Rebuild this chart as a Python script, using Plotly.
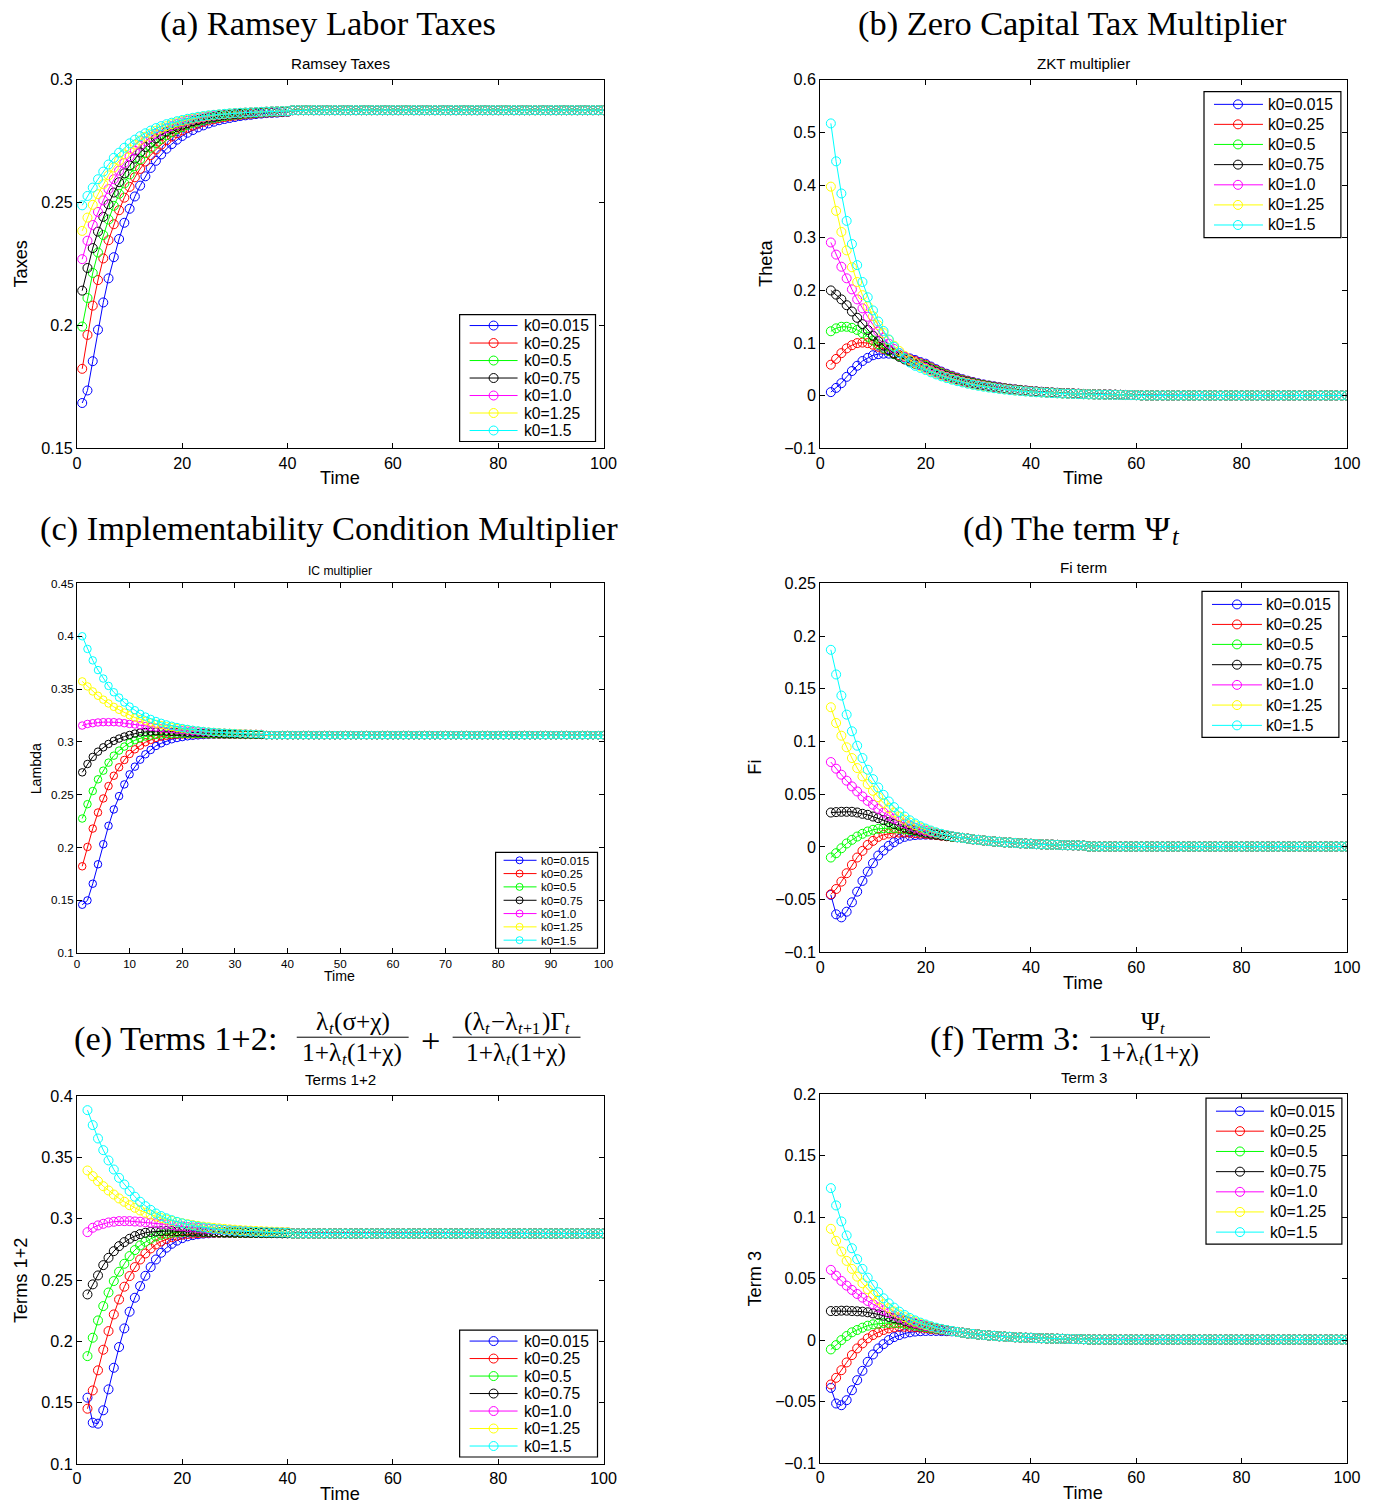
import plotly.graph_objects as go

W, H = 1380, 1504

series_labels = ["k0=0.015", "k0=0.25", "k0=0.5", "k0=0.75", "k0=1.0", "k0=1.25", "k0=1.5"]
series_colors = ["#0000ff", "#ff0000", "#00ff00", "#000000", "#ff00ff", "#ffff00", "#00ffff"]

time_from_1 = list(range(1, 101))
time_from_2 = list(range(2, 101))

# ---------------- (a) Ramsey taxes, t = 1..40 then steady state ----------------
tax_steady = [0.2876] * 60
tax_k0_015 = [0.1685, 0.1736, 0.1855, 0.1983, 0.2094, 0.2192, 0.2278, 0.2352, 0.2418, 0.2475,
              0.2525, 0.2569, 0.2607, 0.2641, 0.2670, 0.2696, 0.2719, 0.2738, 0.2756, 0.2771,
              0.2784, 0.2795, 0.2806, 0.2814, 0.2822, 0.2829, 0.2835, 0.2840, 0.2844, 0.2848,
              0.2852, 0.2855, 0.2857, 0.2860, 0.2862, 0.2864, 0.2865, 0.2866, 0.2868, 0.2869]
tax_k0_025 = [0.1824, 0.1962, 0.2081, 0.2185, 0.2273, 0.2347, 0.2412, 0.2469, 0.2520, 0.2564,
              0.2603, 0.2637, 0.2667, 0.2693, 0.2716, 0.2736, 0.2754, 0.2769, 0.2782, 0.2794,
              0.2804, 0.2813, 0.2821, 0.2828, 0.2834, 0.2839, 0.2844, 0.2848, 0.2851, 0.2854,
              0.2857, 0.2859, 0.2861, 0.2863, 0.2865, 0.2866, 0.2867, 0.2868, 0.2869, 0.2870]
tax_k0_05 = [0.1996, 0.2112, 0.2214, 0.2297, 0.2368, 0.2431, 0.2487, 0.2536, 0.2578, 0.2615,
             0.2648, 0.2676, 0.2701, 0.2723, 0.2742, 0.2759, 0.2774, 0.2786, 0.2798, 0.2807,
             0.2816, 0.2824, 0.2830, 0.2836, 0.2841, 0.2845, 0.2849, 0.2852, 0.2855, 0.2858,
             0.2860, 0.2862, 0.2864, 0.2865, 0.2867, 0.2868, 0.2869, 0.2870, 0.2871, 0.2871]
tax_k0_075 = [0.2142, 0.2234, 0.2315, 0.2382, 0.2442, 0.2493, 0.2541, 0.2583, 0.2619, 0.2651,
              0.2679, 0.2704, 0.2726, 0.2744, 0.2761, 0.2775, 0.2788, 0.2799, 0.2808, 0.2817,
              0.2824, 0.2831, 0.2836, 0.2841, 0.2846, 0.2849, 0.2853, 0.2856, 0.2858, 0.2860,
              0.2862, 0.2864, 0.2865, 0.2867, 0.2868, 0.2869, 0.2870, 0.2871, 0.2871, 0.2872]
tax_k0_10 = [0.2270, 0.2345, 0.2409, 0.2462, 0.2509, 0.2555, 0.2595, 0.2630, 0.2661, 0.2688,
             0.2711, 0.2732, 0.2750, 0.2766, 0.2779, 0.2791, 0.2802, 0.2811, 0.2819, 0.2826,
             0.2833, 0.2838, 0.2843, 0.2847, 0.2851, 0.2854, 0.2857, 0.2859, 0.2861, 0.2863,
             0.2865, 0.2866, 0.2867, 0.2868, 0.2869, 0.2870, 0.2871, 0.2871, 0.2872, 0.2872]
tax_k0_125 = [0.2385, 0.2439, 0.2491, 0.2534, 0.2575, 0.2611, 0.2643, 0.2671, 0.2696, 0.2717,
              0.2736, 0.2753, 0.2768, 0.2781, 0.2792, 0.2802, 0.2811, 0.2819, 0.2826, 0.2832,
              0.2837, 0.2842, 0.2846, 0.2850, 0.2853, 0.2856, 0.2858, 0.2860, 0.2862, 0.2864,
              0.2865, 0.2866, 0.2867, 0.2868, 0.2869, 0.2870, 0.2871, 0.2871, 0.2872, 0.2872]
tax_k0_15 = [0.2489, 0.2527, 0.2561, 0.2595, 0.2626, 0.2655, 0.2682, 0.2703, 0.2723, 0.2741,
             0.2756, 0.2770, 0.2782, 0.2793, 0.2803, 0.2811, 0.2819, 0.2825, 0.2831, 0.2836,
             0.2841, 0.2845, 0.2849, 0.2852, 0.2855, 0.2857, 0.2859, 0.2861, 0.2863, 0.2864,
             0.2865, 0.2866, 0.2867, 0.2868, 0.2869, 0.2870, 0.2871, 0.2871, 0.2872, 0.2872]

# ---------------- (b) ZKT multiplier: t = 2..20, 21..60, then near zero ----------------
theta_steady = [0.0006] * 40
theta_k0_015 = [0.007, 0.015, 0.024, 0.036, 0.047, 0.057, 0.066, 0.072, 0.077, 0.079,
                0.080, 0.080, 0.079, 0.077, 0.074, 0.071, 0.068, 0.064, 0.061,
                0.0555, 0.0505, 0.0460, 0.0418, 0.0381, 0.0346, 0.0315, 0.0287, 0.0261, 0.0237,
                0.0216, 0.0196, 0.0179, 0.0163, 0.0148, 0.0135, 0.0123, 0.0112, 0.0102, 0.0093,
                0.0084, 0.0077, 0.0070, 0.0063, 0.0058, 0.0052, 0.0048, 0.0044, 0.0040, 0.0036,
                0.0033, 0.0030, 0.0027, 0.0025, 0.0023, 0.0021, 0.0019, 0.0017, 0.0015, 0.0014]
theta_k0_025 = [0.059, 0.070, 0.081, 0.090, 0.096, 0.100, 0.101, 0.100, 0.097, 0.093,
                0.089, 0.085, 0.081, 0.077, 0.073, 0.069, 0.066, 0.062, 0.059,
                0.0537, 0.0489, 0.0445, 0.0404, 0.0368, 0.0335, 0.0305, 0.0277, 0.0252, 0.0229,
                0.0209, 0.0190, 0.0173, 0.0158, 0.0143, 0.0131, 0.0119, 0.0108, 0.0099, 0.0090,
                0.0081, 0.0074, 0.0068, 0.0061, 0.0056, 0.0050, 0.0046, 0.0043, 0.0039, 0.0035,
                0.0032, 0.0029, 0.0026, 0.0024, 0.0022, 0.0020, 0.0018, 0.0016, 0.0015, 0.0014]
theta_k0_05 = [0.1225, 0.128, 0.131, 0.131, 0.129, 0.125, 0.119, 0.112, 0.105, 0.098,
               0.091, 0.085, 0.079, 0.075, 0.071, 0.067, 0.063, 0.060, 0.057,
               0.0518, 0.0472, 0.0430, 0.0390, 0.0356, 0.0323, 0.0294, 0.0268, 0.0244, 0.0221,
               0.0202, 0.0183, 0.0167, 0.0152, 0.0138, 0.0126, 0.0115, 0.0105, 0.0095, 0.0087,
               0.0078, 0.0072, 0.0065, 0.0059, 0.0054, 0.0049, 0.0045, 0.0041, 0.0037, 0.0034,
               0.0031, 0.0028, 0.0025, 0.0023, 0.0021, 0.0020, 0.0018, 0.0016, 0.0014, 0.0013]
theta_k0_075 = [0.200, 0.192, 0.183, 0.172, 0.160, 0.148, 0.136, 0.125, 0.114, 0.104,
                0.095, 0.087, 0.080, 0.074, 0.069, 0.065, 0.061, 0.058, 0.055,
                0.0501, 0.0456, 0.0415, 0.0377, 0.0344, 0.0312, 0.0284, 0.0259, 0.0235, 0.0214,
                0.0195, 0.0177, 0.0161, 0.0147, 0.0133, 0.0122, 0.0111, 0.0101, 0.0092, 0.0084,
                0.0076, 0.0069, 0.0063, 0.0057, 0.0052, 0.0047, 0.0043, 0.0040, 0.0036, 0.0032,
                0.0030, 0.0027, 0.0024, 0.0023, 0.0021, 0.0019, 0.0017, 0.0015, 0.0014, 0.0013]
theta_k0_10 = [0.291, 0.268, 0.245, 0.223, 0.202, 0.183, 0.166, 0.150, 0.135, 0.122,
               0.110, 0.099, 0.089, 0.081, 0.074, 0.068, 0.063, 0.058, 0.053,
               0.0482, 0.0439, 0.0400, 0.0363, 0.0331, 0.0301, 0.0274, 0.0249, 0.0227, 0.0206,
               0.0188, 0.0170, 0.0156, 0.0142, 0.0129, 0.0117, 0.0107, 0.0097, 0.0089, 0.0081,
               0.0073, 0.0067, 0.0061, 0.0055, 0.0050, 0.0045, 0.0042, 0.0038, 0.0035, 0.0031,
               0.0029, 0.0026, 0.0023, 0.0022, 0.0020, 0.0018, 0.0017, 0.0015, 0.0013, 0.0012]
theta_k0_125 = [0.397, 0.351, 0.311, 0.276, 0.244, 0.216, 0.191, 0.170, 0.151, 0.134,
                0.119, 0.106, 0.095, 0.085, 0.076, 0.068, 0.062, 0.056, 0.051,
                0.0464, 0.0422, 0.0385, 0.0349, 0.0319, 0.0289, 0.0263, 0.0240, 0.0218, 0.0198,
                0.0181, 0.0164, 0.0150, 0.0136, 0.0124, 0.0113, 0.0103, 0.0094, 0.0085, 0.0078,
                0.0070, 0.0064, 0.0059, 0.0053, 0.0048, 0.0043, 0.0040, 0.0037, 0.0033, 0.0030,
                0.0028, 0.0025, 0.0023, 0.0021, 0.0019, 0.0018, 0.0016, 0.0014, 0.0013, 0.0012]
theta_k0_15 = [0.517, 0.445, 0.384, 0.332, 0.288, 0.248, 0.216, 0.187, 0.162, 0.141,
               0.123, 0.107, 0.093, 0.081, 0.071, 0.063, 0.057, 0.053, 0.049,
               0.0446, 0.0406, 0.0369, 0.0336, 0.0306, 0.0278, 0.0253, 0.0230, 0.0210, 0.0190,
               0.0173, 0.0157, 0.0144, 0.0131, 0.0119, 0.0108, 0.0099, 0.0090, 0.0082, 0.0075,
               0.0067, 0.0062, 0.0056, 0.0051, 0.0047, 0.0042, 0.0039, 0.0035, 0.0032, 0.0029,
               0.0027, 0.0024, 0.0022, 0.0020, 0.0018, 0.0017, 0.0015, 0.0014, 0.0012, 0.0011]

# ---------------- (c) IC multiplier, t = 1..35 then steady state ----------------
lambda_steady = [0.3064] * 65
lambda_k0_015 = [0.1459, 0.1500, 0.1658, 0.1842, 0.2032, 0.2206, 0.2361, 0.2487, 0.2598, 0.2693,
                 0.2766, 0.2832, 0.2883, 0.2924, 0.2962, 0.2987, 0.3009, 0.3025, 0.3037, 0.3046,
                 0.3053, 0.3058, 0.3062, 0.3065, 0.3067, 0.3068, 0.3068, 0.3068, 0.3068, 0.3068,
                 0.3067, 0.3067, 0.3067, 0.3066, 0.3066]
lambda_k0_025 = [0.1823, 0.2006, 0.2180, 0.2332, 0.2465, 0.2582, 0.2680, 0.2760, 0.2829, 0.2886,
                 0.2930, 0.2965, 0.2997, 0.3019, 0.3038, 0.3050, 0.3058, 0.3064, 0.3068, 0.3070,
                 0.3071, 0.3071, 0.3071, 0.3071, 0.3070, 0.3070, 0.3069, 0.3069, 0.3068, 0.3068,
                 0.3067, 0.3067, 0.3067, 0.3066, 0.3066]
lambda_k0_05 = [0.2275, 0.2411, 0.2535, 0.2646, 0.2728, 0.2804, 0.2870, 0.2918, 0.2956, 0.2991,
                0.3016, 0.3035, 0.3051, 0.3060, 0.3066, 0.3070, 0.3073, 0.3075, 0.3076, 0.3076,
                0.3076, 0.3075, 0.3075, 0.3074, 0.3073, 0.3072, 0.3072, 0.3071, 0.3070, 0.3070,
                0.3069, 0.3068, 0.3068, 0.3067, 0.3067]
lambda_k0_075 = [0.2712, 0.2791, 0.2858, 0.2908, 0.2949, 0.2981, 0.3010, 0.3032, 0.3051, 0.3066,
                 0.3079, 0.3089, 0.3095, 0.3098, 0.3099, 0.3098, 0.3097, 0.3095, 0.3093, 0.3090,
                 0.3088, 0.3086, 0.3084, 0.3082, 0.3080, 0.3079, 0.3077, 0.3076, 0.3075, 0.3074,
                 0.3073, 0.3072, 0.3071, 0.3070, 0.3069]
lambda_k0_10 = [0.3155, 0.3170, 0.3177, 0.3184, 0.3187, 0.3187, 0.3187, 0.3184, 0.3177, 0.3170,
                0.3165, 0.3158, 0.3149, 0.3142, 0.3136, 0.3130, 0.3124, 0.3119, 0.3114, 0.3110,
                0.3106, 0.3102, 0.3099, 0.3096, 0.3093, 0.3091, 0.3089, 0.3087, 0.3085, 0.3083,
                0.3081, 0.3080, 0.3078, 0.3077, 0.3076]
lambda_k0_125 = [0.3573, 0.3525, 0.3478, 0.3437, 0.3400, 0.3364, 0.3332, 0.3304, 0.3278, 0.3253,
                 0.3231, 0.3215, 0.3199, 0.3184, 0.3171, 0.3159, 0.3149, 0.3140, 0.3132, 0.3124,
                 0.3118, 0.3112, 0.3107, 0.3102, 0.3098, 0.3094, 0.3091, 0.3088, 0.3086, 0.3084,
                 0.3082, 0.3080, 0.3078, 0.3077, 0.3075]
lambda_k0_15 = [0.4000, 0.3880, 0.3772, 0.3680, 0.3600, 0.3530, 0.3470, 0.3420, 0.3373, 0.3335,
                0.3300, 0.3266, 0.3240, 0.3218, 0.3198, 0.3181, 0.3166, 0.3153, 0.3141, 0.3131,
                0.3123, 0.3115, 0.3109, 0.3103, 0.3098, 0.3094, 0.3090, 0.3087, 0.3084, 0.3082,
                0.3079, 0.3078, 0.3076, 0.3075, 0.3073]

# ---------------- (d) Fi term: t = 2..25, shared tail t = 26..50, then near zero ----------------
fi_tail = [0.0092, 0.0085, 0.0078, 0.0072, 0.0066, 0.0061, 0.0056, 0.0051, 0.0047, 0.0043,
           0.0040, 0.0037, 0.0034, 0.0031, 0.0029, 0.0026, 0.0024, 0.0022, 0.0021, 0.0019,
           0.0017, 0.0016, 0.0015, 0.0014, 0.0012]
fi_steady = [0.0003] * 50
fi_k0_015 = [-0.0456, -0.0640, -0.0669, -0.0615, -0.0526, -0.0425, -0.0323, -0.0235, -0.0155, -0.0082,
             -0.0035, 0.0010, 0.0044, 0.0076, 0.0095, 0.0106, 0.0112, 0.0115, 0.0116, 0.0115,
             0.0113, 0.0110, 0.0106, 0.0102]
fi_k0_025 = [-0.0450, -0.0400, -0.0330, -0.0250, -0.0171, -0.0101, -0.0038, 0.0019, 0.0057, 0.0095,
             0.0114, 0.0127, 0.0133, 0.0135, 0.0135, 0.0133, 0.0130, 0.0126, 0.0122, 0.0117,
             0.0112, 0.0106, 0.0101, 0.0096]
fi_k0_05 = [-0.0101, -0.0060, -0.0013, 0.0032, 0.0067, 0.0098, 0.0124, 0.0146, 0.0162, 0.0171,
            0.0177, 0.0178, 0.0176, 0.0172, 0.0166, 0.0159, 0.0151, 0.0143, 0.0135, 0.0127,
            0.0119, 0.0111, 0.0104, 0.0097]
fi_k0_075 = [0.0326, 0.0330, 0.0333, 0.0333, 0.0333, 0.0326, 0.0314, 0.0304, 0.0288, 0.0273,
             0.0254, 0.0235, 0.0217, 0.0200, 0.0184, 0.0170, 0.0157, 0.0145, 0.0134, 0.0125,
             0.0117, 0.0109, 0.0102, 0.0096]
fi_k0_10 = [0.0805, 0.0742, 0.0685, 0.0628, 0.0574, 0.0526, 0.0479, 0.0437, 0.0400, 0.0361,
            0.0326, 0.0295, 0.0268, 0.0243, 0.0220, 0.0200, 0.0182, 0.0166, 0.0152, 0.0140,
            0.0129, 0.0119, 0.0110, 0.0102]
fi_k0_125 = [0.1325, 0.1176, 0.1055, 0.0945, 0.0843, 0.0748, 0.0669, 0.0596, 0.0532, 0.0472,
             0.0415, 0.0368, 0.0326, 0.0290, 0.0258, 0.0230, 0.0205, 0.0183, 0.0164, 0.0148,
             0.0134, 0.0121, 0.0110, 0.0100]
fi_k0_15 = [0.1870, 0.1636, 0.1436, 0.1255, 0.1097, 0.0960, 0.0843, 0.0732, 0.0643, 0.0564,
            0.0494, 0.0431, 0.0377, 0.0330, 0.0288, 0.0252, 0.0222, 0.0196, 0.0174, 0.0155,
            0.0138, 0.0124, 0.0111, 0.0100]

# ---------------- (e) Terms 1+2: t = 2..40 then steady state ----------------
terms12_steady = [0.2880] * 60
terms12_k0_015 = [0.1541, 0.1337, 0.1329, 0.1438, 0.1609, 0.1785, 0.1954, 0.2106, 0.2242, 0.2356,
                  0.2451, 0.2535, 0.2606, 0.2668, 0.2723, 0.2764, 0.2796, 0.2822, 0.2842, 0.2857,
                  0.2867, 0.2874, 0.2879, 0.2882, 0.2884, 0.2885, 0.2885, 0.2885, 0.2885, 0.2885,
                  0.2884, 0.2884, 0.2884, 0.2883, 0.2883, 0.2883, 0.2882, 0.2882, 0.2882]
terms12_k0_025 = [0.1451, 0.1600, 0.1764, 0.1932, 0.2084, 0.2220, 0.2342, 0.2446, 0.2533, 0.2606,
                  0.2668, 0.2717, 0.2758, 0.2791, 0.2815, 0.2835, 0.2850, 0.2862, 0.2870, 0.2876,
                  0.2880, 0.2883, 0.2885, 0.2886, 0.2886, 0.2886, 0.2886, 0.2886, 0.2885, 0.2885,
                  0.2885, 0.2884, 0.2884, 0.2884, 0.2883, 0.2883, 0.2883, 0.2882, 0.2882]
terms12_k0_05 = [0.1880, 0.2030, 0.2171, 0.2288, 0.2399, 0.2492, 0.2568, 0.2633, 0.2696, 0.2745,
                 0.2783, 0.2813, 0.2837, 0.2856, 0.2870, 0.2880, 0.2887, 0.2891, 0.2893, 0.2894,
                 0.2894, 0.2893, 0.2892, 0.2891, 0.2890, 0.2889, 0.2888, 0.2888, 0.2887, 0.2886,
                 0.2886, 0.2885, 0.2885, 0.2884, 0.2884, 0.2883, 0.2883, 0.2882, 0.2882]
terms12_k0_075 = [0.2383, 0.2465, 0.2538, 0.2622, 0.2682, 0.2736, 0.2777, 0.2810, 0.2837, 0.2859,
                  0.2875, 0.2886, 0.2893, 0.2897, 0.2899, 0.2900, 0.2900, 0.2899, 0.2898, 0.2897,
                  0.2896, 0.2895, 0.2894, 0.2893, 0.2892, 0.2891, 0.2890, 0.2889, 0.2888, 0.2887,
                  0.2887, 0.2886, 0.2886, 0.2885, 0.2885, 0.2884, 0.2884, 0.2883, 0.2883]
terms12_k0_10 = [0.2891, 0.2927, 0.2946, 0.2959, 0.2970, 0.2976, 0.2981, 0.2981, 0.2981, 0.2978,
                 0.2976, 0.2972, 0.2968, 0.2963, 0.2958, 0.2953, 0.2948, 0.2943, 0.2938, 0.2933,
                 0.2929, 0.2925, 0.2921, 0.2917, 0.2914, 0.2911, 0.2908, 0.2906, 0.2903, 0.2901,
                 0.2899, 0.2897, 0.2896, 0.2894, 0.2893, 0.2892, 0.2891, 0.2890, 0.2889]
terms12_k0_125 = [0.3394, 0.3348, 0.3307, 0.3266, 0.3231, 0.3198, 0.3166, 0.3139, 0.3111, 0.3090,
                  0.3068, 0.3050, 0.3034, 0.3019, 0.3006, 0.2994, 0.2983, 0.2973, 0.2964, 0.2956,
                  0.2949, 0.2942, 0.2936, 0.2931, 0.2926, 0.2922, 0.2918, 0.2914, 0.2911, 0.2908,
                  0.2905, 0.2903, 0.2901, 0.2899, 0.2897, 0.2895, 0.2894, 0.2892, 0.2891]
terms12_k0_15 = [0.3886, 0.3764, 0.3655, 0.3560, 0.3476, 0.3402, 0.3334, 0.3280, 0.3226, 0.3180,
                 0.3139, 0.3103, 0.3073, 0.3043, 0.3022, 0.3004, 0.2989, 0.2975, 0.2963, 0.2953,
                 0.2944, 0.2936, 0.2929, 0.2923, 0.2917, 0.2913, 0.2909, 0.2905, 0.2902, 0.2899,
                 0.2897, 0.2895, 0.2893, 0.2891, 0.2890, 0.2889, 0.2888, 0.2887, 0.2886]

# ---------------- (f) Term 3: t = 2..25, shared tail t = 26..50, then near zero ----------------
term3_tail = [0.0066, 0.0060, 0.0054, 0.0050, 0.0045, 0.0041, 0.0037, 0.0034, 0.0031, 0.0028,
              0.0026, 0.0023, 0.0021, 0.0019, 0.0018, 0.0016, 0.0015, 0.0013, 0.0012, 0.0011,
              0.0010, 0.0009, 0.0008, 0.0008, 0.0007]
term3_steady = [0.0004] * 50
term3_k0_015 = [-0.0389, -0.0516, -0.0530, -0.0489, -0.0408, -0.0326, -0.0250, -0.0177, -0.0117, -0.0068,
                -0.0033, 0.0000, 0.0024, 0.0041, 0.0054, 0.0063, 0.0069, 0.0072, 0.0074, 0.0074,
                0.0074, 0.0073, 0.0072, 0.0071]
term3_k0_025 = [-0.0361, -0.0307, -0.0245, -0.0182, -0.0122, -0.0068, -0.0027, 0.0014, 0.0041, 0.0063,
                0.0082, 0.0095, 0.0103, 0.0107, 0.0108, 0.0107, 0.0104, 0.0100, 0.0096, 0.0091,
                0.0087, 0.0082, 0.0078, 0.0073]
term3_k0_05 = [-0.0076, -0.0041, 0.0000, 0.0033, 0.0063, 0.0082, 0.0101, 0.0117, 0.0128, 0.0133,
               0.0139, 0.0140, 0.0139, 0.0136, 0.0131, 0.0125, 0.0118, 0.0111, 0.0104, 0.0097,
               0.0091, 0.0085, 0.0079, 0.0073]
term3_k0_075 = [0.0236, 0.0236, 0.0239, 0.0239, 0.0236, 0.0234, 0.0231, 0.0226, 0.0217, 0.0209,
                0.0198, 0.0188, 0.0177, 0.0166, 0.0155, 0.0144, 0.0133, 0.0123, 0.0113, 0.0104,
                0.0096, 0.0088, 0.0081, 0.0074]
term3_k0_10 = [0.0571, 0.0524, 0.0481, 0.0443, 0.0408, 0.0375, 0.0345, 0.0318, 0.0291, 0.0266,
               0.0242, 0.0220, 0.0200, 0.0182, 0.0165, 0.0150, 0.0137, 0.0125, 0.0114, 0.0104,
               0.0095, 0.0087, 0.0080, 0.0074]
term3_k0_125 = [0.0905, 0.0807, 0.0720, 0.0644, 0.0579, 0.0516, 0.0462, 0.0413, 0.0367, 0.0326,
                0.0291, 0.0260, 0.0233, 0.0208, 0.0186, 0.0167, 0.0150, 0.0134, 0.0121, 0.0109,
                0.0098, 0.0089, 0.0081, 0.0074]
term3_k0_15 = [0.1236, 0.1095, 0.0965, 0.0851, 0.0747, 0.0658, 0.0579, 0.0508, 0.0448, 0.0389,
               0.0340, 0.0299, 0.0264, 0.0231, 0.0204, 0.0180, 0.0160, 0.0142, 0.0127, 0.0113,
               0.0101, 0.0091, 0.0082, 0.0074]

# ---------------- tick labels ----------------
x_ticks_20 = [0, 20, 40, 60, 80, 100]
x_ticks_10 = [0, 10, 20, 30, 40, 50, 60, 70, 80, 90, 100]
y_ticks_a = [0.15, 0.2, 0.25, 0.3]
y_text_a = ["0.15", "0.2", "0.25", "0.3"]
y_ticks_b = [-0.1, 0, 0.1, 0.2, 0.3, 0.4, 0.5, 0.6]
y_text_b = ["\u22120.1", "0", "0.1", "0.2", "0.3", "0.4", "0.5", "0.6"]
y_ticks_c = [0.1, 0.15, 0.2, 0.25, 0.3, 0.35, 0.4, 0.45]
y_text_c = ["0.1", "0.15", "0.2", "0.25", "0.3", "0.35", "0.4", "0.45"]
y_ticks_d = [-0.1, -0.05, 0, 0.05, 0.1, 0.15, 0.2, 0.25]
y_text_d = ["\u22120.1", "\u22120.05", "0", "0.05", "0.1", "0.15", "0.2", "0.25"]
y_ticks_e = [0.1, 0.15, 0.2, 0.25, 0.3, 0.35, 0.4]
y_text_e = ["0.1", "0.15", "0.2", "0.25", "0.3", "0.35", "0.4"]
y_ticks_f = [-0.1, -0.05, 0, 0.05, 0.1, 0.15, 0.2]
y_text_f = ["\u22120.1", "\u22120.05", "0", "0.05", "0.1", "0.15", "0.2"]

SANS = "Liberation Sans, Arial, Helvetica, sans-serif"
SERIF = "Liberation Serif, Times New Roman, DejaVu Serif, serif"

# The captured page comes out slightly shrunk and shifted; positions below are in
# target-picture pixels and are mapped back to figure pixels here.
SCALE = 0.9885
OFF_X, OFF_Y = 3.0, 7.3


def px(x):
    return ((x - OFF_X) / SCALE) / W


def py(y):
    return 1 - ((y - OFF_Y) / SCALE) / H


def fs(size):
    return size / SCALE


panels = [
    dict(box=(76, 603, 78, 447), time=time_from_1,
         series=[tax_k0_015 + tax_steady, tax_k0_025 + tax_steady, tax_k0_05 + tax_steady,
                 tax_k0_075 + tax_steady, tax_k0_10 + tax_steady, tax_k0_125 + tax_steady,
                 tax_k0_15 + tax_steady],
         yrange=[0.15, 0.3], yticks=y_ticks_a, ytext=y_text_a, xticks=x_ticks_20,
         tick_font=16, msize=9,
         inner=("Ramsey Taxes", 340, 62, 15), xtitle=("Time", 339, 477, 18),
         ytitle=("Taxes", 20, 262, 18),
         legend=dict(box=(459, 595, 313, 440), ys=[324, 341.5, 359, 376.5, 394, 411.5, 429],
                     lx=(469, 517), mx=493, tx=523, font=15.5, r=4.5)),
    dict(box=(820, 1347, 78, 447), time=time_from_2,
         series=[theta_k0_015 + theta_steady, theta_k0_025 + theta_steady, theta_k0_05 + theta_steady,
                 theta_k0_075 + theta_steady, theta_k0_10 + theta_steady, theta_k0_125 + theta_steady,
                 theta_k0_15 + theta_steady],
         yrange=[-0.1, 0.6], yticks=y_ticks_b, ytext=y_text_b, xticks=x_ticks_20,
         tick_font=16, msize=9,
         inner=("ZKT multiplier", 1083, 62, 15), xtitle=("Time", 1083, 477, 18),
         ytitle=("Theta", 765, 262, 18),
         legend=dict(box=(1204, 1341, 90, 236), ys=[102.7, 122.7, 142.8, 163, 183.2, 203.3, 223.4],
                     lx=(1214, 1263), mx=1238, tx=1268, font=15.5, r=4.5)),
    dict(box=(76, 603, 582, 952), time=time_from_1,
         series=[lambda_k0_015 + lambda_steady, lambda_k0_025 + lambda_steady, lambda_k0_05 + lambda_steady,
                 lambda_k0_075 + lambda_steady, lambda_k0_10 + lambda_steady, lambda_k0_125 + lambda_steady,
                 lambda_k0_15 + lambda_steady],
         yrange=[0.1, 0.45], yticks=y_ticks_c, ytext=y_text_c, xticks=x_ticks_10,
         tick_font=11.5, msize=7.5,
         inner=("IC multiplier", 339, 570, 12), xtitle=("Time", 339, 975, 14),
         ytitle=("Lambda", 35, 767, 14),
         legend=dict(box=(495, 597, 851, 947), ys=[859, 872.3, 885.6, 899, 912.3, 925.6, 938.9],
                     lx=(503, 536), mx=519, tx=540, font=11.5, r=3.5)),
    dict(box=(820, 1347, 582, 951), time=time_from_2,
         series=[fi_k0_015 + fi_tail + fi_steady, fi_k0_025 + fi_tail + fi_steady, fi_k0_05 + fi_tail + fi_steady,
                 fi_k0_075 + fi_tail + fi_steady, fi_k0_10 + fi_tail + fi_steady, fi_k0_125 + fi_tail + fi_steady,
                 fi_k0_15 + fi_tail + fi_steady],
         yrange=[-0.1, 0.25], yticks=y_ticks_d, ytext=y_text_d, xticks=x_ticks_20,
         tick_font=16, msize=9,
         inner=("Fi term", 1083, 566, 15), xtitle=("Time", 1083, 982, 18),
         ytitle=("Fi", 755, 766, 18),
         legend=dict(box=(1202, 1339, 590, 736), ys=[603, 623, 643, 663.3, 683.5, 703.7, 724],
                     lx=(1212, 1262), mx=1237, tx=1266, font=15.5, r=4.5)),
    dict(box=(76, 603, 1095, 1463), time=time_from_2,
         series=[terms12_k0_015 + terms12_steady, terms12_k0_025 + terms12_steady, terms12_k0_05 + terms12_steady,
                 terms12_k0_075 + terms12_steady, terms12_k0_10 + terms12_steady, terms12_k0_125 + terms12_steady,
                 terms12_k0_15 + terms12_steady],
         yrange=[0.1, 0.4], yticks=y_ticks_e, ytext=y_text_e, xticks=x_ticks_20,
         tick_font=16, msize=9,
         inner=("Terms 1+2", 340, 1078, 15), xtitle=("Time", 339, 1493, 18),
         ytitle=("Terms 1+2", 20, 1279, 18),
         legend=dict(box=(459, 597, 1329, 1456), ys=[1340, 1357.5, 1375, 1392.5, 1410, 1427.5, 1445],
                     lx=(469, 517), mx=493, tx=523, font=15.5, r=4.5)),
    dict(box=(820, 1347, 1093, 1462), time=time_from_2,
         series=[term3_k0_015 + term3_tail + term3_steady, term3_k0_025 + term3_tail + term3_steady,
                 term3_k0_05 + term3_tail + term3_steady, term3_k0_075 + term3_tail + term3_steady,
                 term3_k0_10 + term3_tail + term3_steady, term3_k0_125 + term3_tail + term3_steady,
                 term3_k0_15 + term3_tail + term3_steady],
         yrange=[-0.1, 0.2], yticks=y_ticks_f, ytext=y_text_f, xticks=x_ticks_20,
         tick_font=16, msize=9,
         inner=("Term 3", 1084, 1076, 15), xtitle=("Time", 1083, 1492, 18),
         ytitle=("Term 3", 755, 1277, 18),
         legend=dict(box=(1206, 1342, 1097, 1243), ys=[1110, 1130, 1150.3, 1170.5, 1190.7, 1210.8, 1231],
                     lx=(1216, 1264), mx=1240, tx=1270, font=15.5, r=4.5)),
]

fig = go.Figure()
annotations = []
shapes = []


def txt(text, x, y, size, family=SANS, xanchor="center", angle=0, italic=False):
    annotations.append(dict(text=text, x=px(x), y=py(y), xref="paper", yref="paper",
                            xanchor=xanchor, yanchor="middle", showarrow=False, textangle=angle,
                            borderpad=0, borderwidth=0,
                            font=dict(family=family, size=fs(size), color="black",
                                      style="italic" if italic else "normal")))


def hline(x0, x1, y):
    shapes.append(dict(type="line", xref="paper", yref="paper", x0=px(x0), x1=px(x1),
                       y0=py(y), y1=py(y), line=dict(color="black", width=1)))


for i, p in enumerate(panels):
    n = i + 1
    xa = "x" if n == 1 else f"x{n}"
    ya = "y" if n == 1 else f"y{n}"
    for j, ys in enumerate(p["series"]):
        fig.add_trace(go.Scatter(
            x=p["time"], y=ys, xaxis=xa, yaxis=ya, mode="lines+markers",
            name=series_labels[j], showlegend=False,
            line=dict(color=series_colors[j], width=1),
            marker=dict(symbol="circle-open", size=p["msize"], color=series_colors[j],
                        line=dict(width=1, color=series_colors[j])),
        ))
    x0, x1, y0, y1 = p["box"]
    axis_common = dict(showline=True, linecolor="black", linewidth=1, mirror="ticks",
                       ticks="inside", ticklen=5, tickwidth=1, tickcolor="black",
                       showgrid=False, zeroline=False,
                       tickfont=dict(family=SANS, size=fs(p["tick_font"]), color="black"))
    fig.update_layout(**{
        ("xaxis" if n == 1 else f"xaxis{n}"): dict(
            domain=[px(x0), px(x1)], anchor=ya, range=[0, 100],
            tickvals=p["xticks"], ticktext=[str(v) for v in p["xticks"]], **axis_common),
        ("yaxis" if n == 1 else f"yaxis{n}"): dict(
            domain=[py(y1), py(y0)], anchor=xa, range=p["yrange"],
            tickvals=p["yticks"], ticktext=p["ytext"], **axis_common),
    })
    t, tx_, ty_, ts = p["inner"]
    txt(t, tx_, ty_, ts)
    t, tx_, ty_, ts = p["xtitle"]
    txt(t, tx_, ty_, ts)
    t, tx_, ty_, ts = p["ytitle"]
    txt(t, tx_, ty_, ts, angle=-90)

    lg = p["legend"]
    bx0, bx1, by0, by1 = lg["box"]
    shapes.append(dict(type="rect", xref="paper", yref="paper", x0=px(bx0), x1=px(bx1),
                       y0=py(by1), y1=py(by0), line=dict(color="black", width=1.2),
                       fillcolor="white", layer="above"))
    for j, yy in enumerate(lg["ys"]):
        shapes.append(dict(type="line", xref="paper", yref="paper", x0=px(lg["lx"][0]),
                           x1=px(lg["lx"][1]), y0=py(yy), y1=py(yy),
                           line=dict(color=series_colors[j], width=1), layer="above"))
        r = lg["r"]
        shapes.append(dict(type="circle", xref="paper", yref="paper", xsizemode="pixel",
                           ysizemode="pixel", xanchor=px(lg["mx"]), yanchor=py(yy),
                           x0=-r, x1=r, y0=-r, y1=r, fillcolor="rgba(0,0,0,0)",
                           line=dict(color=series_colors[j], width=1), layer="above"))
        txt(series_labels[j], lg["tx"], yy, lg["font"], xanchor="left")

# ---------------- main serif titles ----------------
txt("(a) Ramsey Labor Taxes", 327, 22, 34, family=SERIF)
txt("(b) Zero Capital Tax Multiplier", 1072, 22, 34, family=SERIF)
txt("(c) Implementability Condition Multiplier", 328, 527, 34, family=SERIF)
txt("(d) The term \u03a8", 1171, 527, 34, family=SERIF, xanchor="right")
txt("t", 1171.5, 535, 24, family=SERIF, xanchor="left", italic=True)

# (e) title with two stacked fractions
FR, SB = 25, 16          # fraction text size, subscript size
NUM_Y, DEN_Y, SUB_DY = 1020, 1051, 7
txt("(e) Terms 1+2:", 73, 1037, 34, family=SERIF, xanchor="left")
# numerator 1: lambda_t (sigma + chi)
txt("\u03bb", 328.1, NUM_Y, FR, family=SERIF, xanchor="right")
txt("t", 328.3, NUM_Y + SUB_DY, SB, family=SERIF, xanchor="left", italic=True)
txt("(\u03c3+\u03c7)", 333.4, NUM_Y, FR, family=SERIF, xanchor="left")
hline(296, 408, 1036)
# denominator 1: 1 + lambda_t (1 + chi)
txt("1+\u03bb", 341.1, DEN_Y, FR, family=SERIF, xanchor="right")
txt("t", 341.3, DEN_Y + SUB_DY, SB, family=SERIF, xanchor="left", italic=True)
txt("(1+\u03c7)", 346.4, DEN_Y, FR, family=SERIF, xanchor="left")
txt("+", 430, 1039, 34, family=SERIF)
# numerator 2: (lambda_t - lambda_{t+1}) Gamma_t
txt("(\u03bb", 484.1, NUM_Y, FR, family=SERIF, xanchor="right")
txt("t", 484.3, NUM_Y + SUB_DY, SB, family=SERIF, xanchor="left", italic=True)
txt("\u2212\u03bb", 517.2, NUM_Y, FR, family=SERIF, xanchor="right")
txt("t", 517.4, NUM_Y + SUB_DY, SB, family=SERIF, xanchor="left", italic=True)
txt("+1", 522.2, NUM_Y + SUB_DY, SB, family=SERIF, xanchor="left")
txt(")\u0393", 564.6, NUM_Y, FR, family=SERIF, xanchor="right")
txt("t", 564.8, NUM_Y + SUB_DY, SB, family=SERIF, xanchor="left", italic=True)
hline(452, 580, 1036)
# denominator 2
txt("1+\u03bb", 505.1, DEN_Y, FR, family=SERIF, xanchor="right")
txt("t", 505.3, DEN_Y + SUB_DY, SB, family=SERIF, xanchor="left", italic=True)
txt("(1+\u03c7)", 510.4, DEN_Y, FR, family=SERIF, xanchor="left")

# (f) title with one stacked fraction
txt("(f) Term 3:", 930, 1037, 34, family=SERIF, xanchor="left")
txt("\u03a8", 1159.9, NUM_Y, FR, family=SERIF, xanchor="right")
txt("t", 1160.1, NUM_Y + SUB_DY, SB, family=SERIF, xanchor="left", italic=True)
hline(1090, 1210, 1036)
txt("1+\u03bb", 1139.1, DEN_Y, FR, family=SERIF, xanchor="right")
txt("t", 1139.3, DEN_Y + SUB_DY, SB, family=SERIF, xanchor="left", italic=True)
txt("(1+\u03c7)", 1144.4, DEN_Y, FR, family=SERIF, xanchor="left")

fig.update_layout(width=W, height=H, margin=dict(l=0, r=0, t=0, b=0),
                  paper_bgcolor="white", plot_bgcolor="white", showlegend=False,
                  annotations=annotations, shapes=shapes)

fig.write_html("out.html")
